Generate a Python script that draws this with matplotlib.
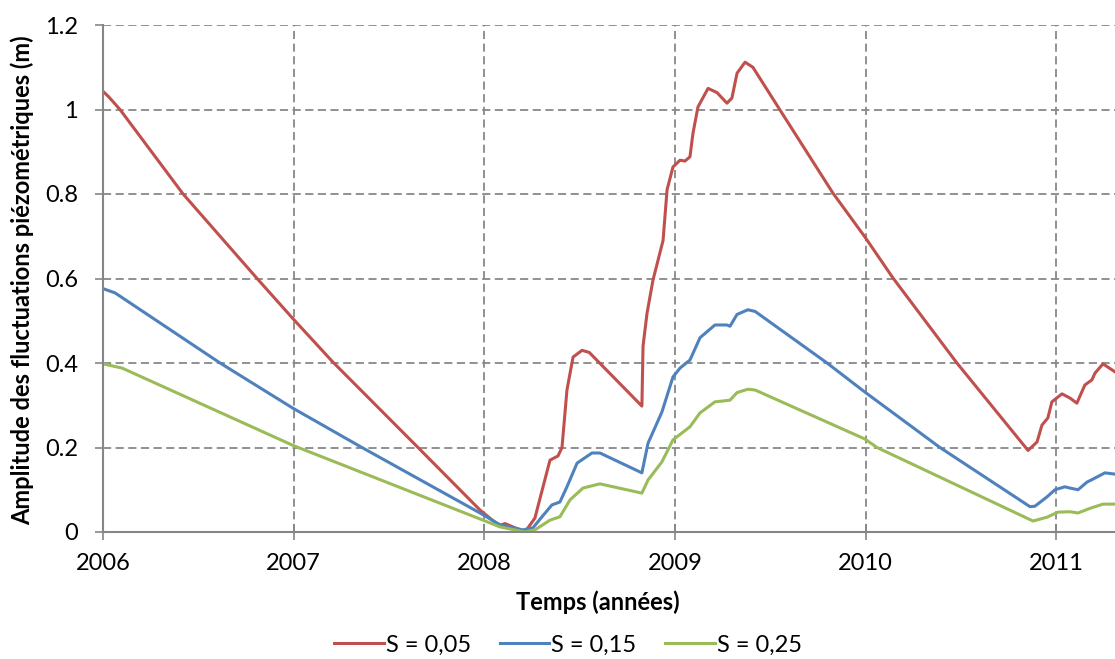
import matplotlib
matplotlib.use('Agg')
import matplotlib.pyplot as plt

plt.rcParams['font.family'] = ['Lato', 'DejaVu Sans']

# S = 0,05
t_red = [2006.000, 2006.03, 2006.089, 2006.420, 2006.808, 2006.996, 2007.206, 2007.652,
         2007.977, 2008.077, 2008.108, 2008.15, 2008.213, 2008.265, 2008.307, 2008.344,
         2008.386, 2008.407, 2008.433, 2008.465, 2008.512, 2008.55, 2008.826, 2008.832,
         2008.853, 2008.884, 2008.937, 2008.958, 2008.989, 2009.026, 2009.052, 2009.078,
         2009.094, 2009.120, 2009.173, 2009.220, 2009.272, 2009.298, 2009.325, 2009.367,
         2009.408, 2009.550, 2009.828, 2009.996, 2010.143, 2010.478, 2010.851, 2010.898,
         2010.924, 2010.955, 2010.976, 2011.029, 2011.071, 2011.107, 2011.149, 2011.186,
         2011.202, 2011.244, 2011.307]
v_red = [1.043, 1.03, 1.0, 0.80, 0.60, 0.505, 0.402, 0.20,
         0.052, 0.015, 0.02, 0.012, 0.0, 0.033, 0.106, 0.17,
         0.18, 0.20, 0.336, 0.414, 0.43, 0.425, 0.298, 0.44,
         0.518, 0.596, 0.69, 0.81, 0.864, 0.88, 0.878, 0.888,
         0.944, 1.006, 1.05, 1.04, 1.015, 1.027, 1.086, 1.112,
         1.10, 0.999, 0.802, 0.698, 0.601, 0.40, 0.193, 0.213,
         0.253, 0.27, 0.308, 0.327, 0.317, 0.305, 0.348, 0.36,
         0.376, 0.398, 0.379]

# S = 0,15
t_blue = [2006.000, 2006.063, 2006.614, 2006.996, 2007.358, 2007.977, 2008.082, 2008.202,
          2008.255, 2008.302, 2008.354, 2008.396, 2008.433, 2008.486, 2008.564, 2008.606,
          2008.826, 2008.858, 2008.931, 2008.989, 2009.026, 2009.078, 2009.131, 2009.209,
          2009.272, 2009.288, 2009.325, 2009.382, 2009.42, 2009.797, 2009.996, 2010.389,
          2010.861, 2010.887, 2010.950, 2010.992, 2011.044, 2011.071, 2011.113, 2011.160,
          2011.212, 2011.254, 2011.307]
v_blue = [0.576, 0.566, 0.40, 0.293, 0.20, 0.045, 0.017, 0.005,
          0.01, 0.036, 0.064, 0.071, 0.107, 0.163, 0.187, 0.187,
          0.14, 0.21, 0.284, 0.367, 0.388, 0.407, 0.46, 0.49,
          0.49, 0.487, 0.515, 0.526, 0.522, 0.40, 0.331, 0.20,
          0.06, 0.061, 0.083, 0.10, 0.107, 0.104, 0.10, 0.118,
          0.13, 0.14, 0.137]

# S = 0,25
t_green = [2006.000, 2006.100, 2006.996, 2007.993, 2008.082, 2008.213, 2008.265, 2008.344,
           2008.396, 2008.449, 2008.517, 2008.606, 2008.826, 2008.858, 2008.931, 2008.989,
           2009.078, 2009.131, 2009.209, 2009.288, 2009.325, 2009.382, 2009.42, 2009.996,
           2010.059, 2010.877, 2010.950, 2011.008, 2011.071, 2011.113, 2011.176, 2011.244,
           2011.307]
v_green = [0.398, 0.388, 0.205, 0.028, 0.012, 0.0, 0.005, 0.028,
           0.036, 0.076, 0.104, 0.114, 0.092, 0.123, 0.166, 0.218,
           0.249, 0.282, 0.308, 0.312, 0.33, 0.338, 0.336, 0.22,
           0.2, 0.026, 0.035, 0.047, 0.048, 0.045, 0.056, 0.066,
           0.066]

labels = ['S = 0,05', 'S = 0,15', 'S = 0,25']
colors = ['#C0504D', '#4F81BD', '#9BBB59']
x_ticks = [2006, 2007, 2008, 2009, 2010, 2011]
y_ticks = [0, 0.2, 0.4, 0.6, 0.8, 1.0, 1.2]
y_tick_labels = ['0', '0.2', '0.4', '0.6', '0.8', '1', '1.2']

fig = plt.figure(figsize=(11.15, 6.59), dpi=100)
ax = fig.add_axes([103 / 1115, 127 / 659, 1012 / 1115, 507 / 659])

for t, v, c, lab in zip([t_red, t_blue, t_green], [v_red, v_blue, v_green], colors, labels):
    ax.plot(t, v, color=c, lw=2.2, label=lab, solid_joinstyle='round')

ax.set_xlim(2006, 2011.307)
ax.set_ylim(0, 1.2)
ax.set_xticks(x_ticks)
ax.set_xticklabels([str(x) for x in x_ticks])
ax.set_yticks(y_ticks)
ax.set_yticklabels(y_tick_labels)
ax.tick_params(axis='both', labelsize=17, color='#868686', width=1.2)
ax.tick_params(axis='x', direction='inout', length=12, pad=9)
ax.tick_params(axis='y', direction='out', length=6, pad=12)

ax.grid(True, color='#888888', linestyle=(0, (4.5, 2.5)), linewidth=1.3)
for side in ['top', 'right']:
    ax.spines[side].set_visible(False)
for side in ['left', 'bottom']:
    ax.spines[side].set_color('#868686')
    ax.spines[side].set_linewidth(1.5)
ax.set_axisbelow(True)

fig.text(22 / 1115, 1 - 280 / 659, 'Amplitude des fluctuations piézométriques (m)',
         rotation=90, ha='center', va='center', fontsize=17, fontweight='bold')
fig.text(598 / 1115, 1 - 602 / 659, 'Temps (années)', ha='center', va='center',
         fontsize=17, fontweight='bold')

fig.legend(loc='center', bbox_to_anchor=(568 / 1115, 1 - 645 / 659), ncol=3,
           frameon=False, fontsize=17, handlelength=2.1, columnspacing=1.2,
           handletextpad=0.1)

fig.savefig('out.png', dpi=100)
